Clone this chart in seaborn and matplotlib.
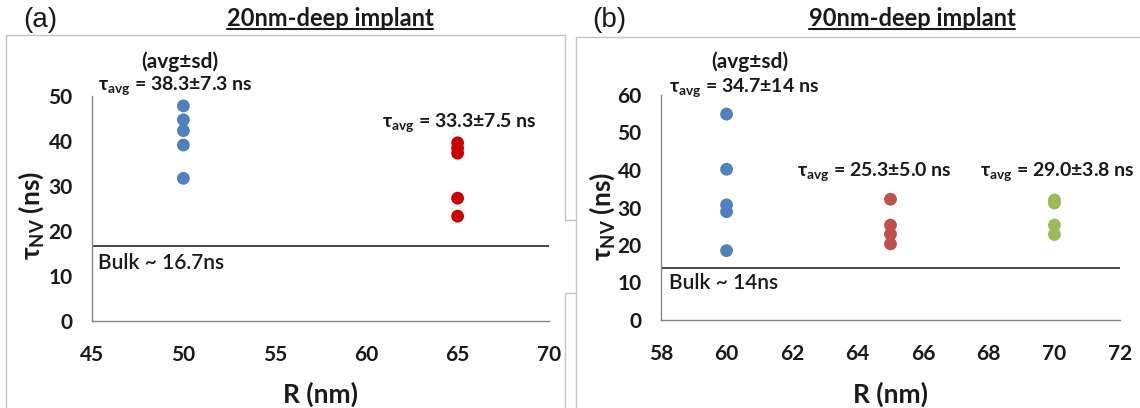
import numpy as np
import pandas as pd
import matplotlib
matplotlib.use("Agg")
import matplotlib.pyplot as plt
from matplotlib.lines import Line2D
from matplotlib.ticker import MultipleLocator
import seaborn as sns

# ---- data -------------------------------------------------------------
# (a) 20 nm-deep implant: NV lifetimes (ns) per pillar radius R (nm)
a_r50 = [47.8, 44.7, 42.3, 39.1, 31.7]
a_r65 = [39.6, 38.4, 37.3, 27.3, 23.3]
a_bulk = 16.7
a_labels = ["38.3±7.3", "33.3±7.5"]

# (b) 90 nm-deep implant
b_r60 = [54.9, 40.2, 30.7, 28.9, 18.5]
b_r65 = [32.2, 25.3, 22.9, 20.3]
b_r70 = [32.0, 31.2, 25.3, 22.8]
b_bulk = 14.0
b_labels = ["34.7±14", "25.3±5.0", "29.0±3.8"]

df_a = pd.DataFrame({
    "R": [50] * len(a_r50) + [65] * len(a_r65),
    "tau": a_r50 + a_r65,
    "grp": ["r50"] * len(a_r50) + ["r65"] * len(a_r65),
})
df_b = pd.DataFrame({
    "R": [60] * len(b_r60) + [65] * len(b_r65) + [70] * len(b_r70),
    "tau": b_r60 + b_r65 + b_r70,
    "grp": ["r60"] * len(b_r60) + ["r65"] * len(b_r65) + ["r70"] * len(b_r70),
})

# ---- style ------------------------------------------------------------
sns.set_style("white")
plt.rcParams["font.family"] = ["Lato", "DejaVu Sans"]
plt.rcParams["mathtext.default"] = "regular"

TXT = "#1a1a1a"
AXC = "#868686"
FRAME = "#c4c4c4"

fig = plt.figure(figsize=(11.4, 4.08), dpi=100)
W, H = 1140, 408


def fx(px):
    return px / W


def fy(py):
    return 1 - py / H


ax_a = fig.add_axes([fx(92), fy(321), fx(457), 225 / H])
ax_b = fig.add_axes([fx(661), fy(320), fx(459), 225 / H])

sns.scatterplot(data=df_a, x="R", y="tau", hue="grp",
                palette={"r50": "#4f81bd", "r65": "#cc0000"},
                s=85, edgecolor=None, linewidth=0, legend=False, ax=ax_a)
sns.scatterplot(data=df_b, x="R", y="tau", hue="grp",
                palette={"r60": "#4f81bd", "r65": "#c0504d", "r70": "#9bbb59"},
                s=85, edgecolor=None, linewidth=0, legend=False, ax=ax_b)

ax_a.axhline(a_bulk, color="#3a3a3a", lw=1.3, zorder=1)
ax_b.axhline(b_bulk, color="#3a3a3a", lw=1.3, zorder=1)

for ax, xlim, ylim, xmaj, xmin in [
    (ax_a, (45, 70), (0, 50), 5, 1),
    (ax_b, (58, 72), (0, 60), 2, 0.5),
]:
    ax.set_xlim(*xlim)
    ax.set_ylim(*ylim)
    ax.xaxis.set_major_locator(MultipleLocator(xmaj))
    ax.xaxis.set_minor_locator(MultipleLocator(xmin))
    ax.yaxis.set_major_locator(MultipleLocator(10))
    ax.yaxis.set_minor_locator(MultipleLocator(2))
    for s in ("top", "right"):
        ax.spines[s].set_visible(False)
    for s in ("left", "bottom"):
        ax.spines[s].set_color(AXC)
        ax.spines[s].set_linewidth(1.0)
    ax.tick_params(axis="both", which="major", direction="out", length=5,
                   width=1, color=AXC, labelcolor=TXT, labelsize=15)
    ax.tick_params(axis="both", which="minor", direction="out", length=4,
                   width=0.8, color=AXC)
    ax.tick_params(axis="x", which="major", pad=12)
    ax.tick_params(axis="y", which="major", pad=9)
    for lab in ax.get_xticklabels() + ax.get_yticklabels():
        lab.set_fontweight("bold")
    ax.set_xlabel("R (nm)", fontsize=19, fontweight="bold", color=TXT)
    ax.set_ylabel(r"$\tau_{NV}$ (ns)", fontsize=19, fontweight="bold", color=TXT)
    ax.xaxis.label.set_va("center")
    ax.yaxis.label.set_va("center")
    ax.set_facecolor("white")

ax_a.xaxis.set_label_coords(0.5, -0.325)
ax_b.xaxis.set_label_coords(0.5, -0.33)
ax_a.yaxis.set_label_coords(-0.132, 0.47)
ax_b.yaxis.set_label_coords(-0.128, 0.46)

ann = dict(fontsize=14, fontweight="bold", color=TXT, va="center",
           annotation_clip=False)
bulk = dict(fontsize=15, color=TXT, va="center", ha="left",
            fontweight="semibold", annotation_clip=False)

# panel (a) annotations
ax_a.annotate("(avg±sd)", (49.8, 57.6), ha="center", fontsize=15,
              fontweight="bold", color=TXT, va="center", annotation_clip=False)
ax_a.annotate(r"$\tau_{avg}$ = " + a_labels[0] + " ns", (45.33, 52.4), ha="left", **ann)
ax_a.annotate(r"$\tau_{avg}$ = " + a_labels[1] + " ns", (60.86, 44.0), ha="left", **ann)
ax_a.annotate(f"Bulk ~ {a_bulk}ns", (45.33, 12.9), **bulk)

# panel (b) annotations
ax_b.annotate("(avg±sd)", (60.71, 68.8), ha="center", fontsize=15,
              fontweight="bold", color=TXT, va="center", annotation_clip=False)
ax_b.annotate(r"$\tau_{avg}$ = " + b_labels[0] + " ns", (58.24, 61.9), ha="left", **ann)
ax_b.annotate(r"$\tau_{avg}$ = " + b_labels[1] + " ns", (62.15, 39.5), ha="left", **ann)
ax_b.annotate(r"$\tau_{avg}$ = " + b_labels[2] + " ns", (67.72, 39.5), ha="left", **ann)
ax_b.annotate(f"Bulk ~ {b_bulk:.0f}ns", (58.24, 9.9), **bulk)

# panel letters and underlined titles
fig.text(fx(40), fy(20), "(a)", ha="center", va="center", fontsize=20,
         family="Liberation Sans", color=TXT)
fig.text(fx(609), fy(20), "(b)", ha="center", va="center", fontsize=20,
         family="Liberation Sans", color=TXT)
titles = [
    fig.text(fx(330), fy(18), "20nm-deep implant", ha="center", va="center",
             fontsize=17, fontweight="bold", color=TXT),
    fig.text(fx(912), fy(18), "90nm-deep implant", ha="center", va="center",
             fontsize=17, fontweight="bold", color=TXT),
]

# chart-area frames around each panel
frame_lines = [
    ([6, 565], [35, 35]), ([6, 6], [35, 408]),
    ([565, 565], [35, 220]), ([565, 575], [220, 220]),
    ([565, 575], [293, 293]), ([565, 565], [293, 408]),
    ([576, 1140], [37, 37]), ([576, 576], [37, 408]),
]
for xs, ys in frame_lines:
    fig.add_artist(Line2D([fx(x) for x in xs], [fy(y) for y in ys],
                          color=FRAME, lw=1.0, transform=fig.transFigure))

# underline titles using their rendered extents
fig.canvas.draw()
r = fig.canvas.get_renderer()
for t in titles:
    bb = t.get_window_extent(renderer=r)
    y = bb.y0 + 1
    fig.add_artist(Line2D([bb.x0 / W, bb.x1 / W], [y / H, y / H],
                          color=TXT, lw=1.5, transform=fig.transFigure))

fig.savefig("out.png", dpi=100, facecolor="white")
